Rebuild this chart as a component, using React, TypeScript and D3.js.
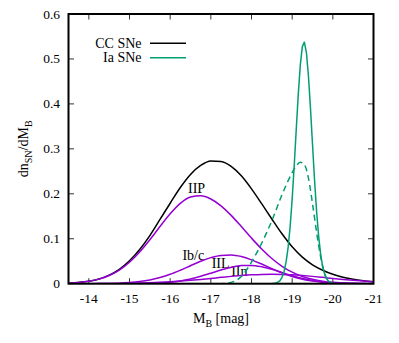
import React from "react";
import * as d3 from "d3";

// ---- data ----
const M_GRID = [-13.5, -13.75, -14, -14.25, -14.5, -14.75, -15, -15.25, -15.5, -15.75, -16, -16.25, -16.5, -16.75, -17, -17.25, -17.5, -17.75, -18, -18.25, -18.5, -18.75, -19, -19.25, -19.5, -19.75, -20, -20.25, -20.5, -20.75, -21];
const CC_TOTAL = [0.0012, 0.0029, 0.0056, 0.0106, 0.0192, 0.032, 0.051, 0.076, 0.107, 0.143, 0.179, 0.214, 0.243, 0.263, 0.273, 0.272, 0.261, 0.240, 0.211, 0.178, 0.144, 0.111, 0.082, 0.059, 0.042, 0.030, 0.021, 0.0145, 0.0098, 0.0065, 0.0042];
const IIP = [0.0012, 0.0027, 0.0054, 0.0102, 0.0182, 0.0304, 0.0478, 0.0705, 0.0977, 0.1272, 0.1555, 0.1787, 0.1928, 0.1956, 0.1885, 0.1733, 0.1520, 0.1271, 0.1014, 0.0772, 0.0560, 0.0388, 0.0256, 0.0161, 0.0097, 0.0056, 0.0030, 0.0016, 0.0008, 0.0004, 0.0002];
const IBC = [0.0000, 0.0000, 0.0001, 0.0002, 0.0006, 0.0012, 0.0025, 0.0047, 0.0083, 0.0137, 0.0209, 0.0300, 0.0400, 0.0499, 0.0580, 0.0630, 0.0638, 0.0603, 0.0531, 0.0437, 0.0335, 0.0240, 0.0161, 0.0100, 0.0058, 0.0032, 0.0016, 0.0008, 0.0003, 0.0001, 0.0000];
const IIL = [0, 0, 0, 0, 0, 0.0000, 0.0001, 0.0003, 0.0008, 0.0017, 0.0034, 0.0062, 0.0106, 0.0164, 0.0234, 0.0306, 0.0367, 0.0404, 0.0407, 0.0377, 0.0320, 0.0249, 0.0177, 0.0116, 0.0070, 0.0038, 0.0019, 0.0009, 0.0004, 0.0002, 0.0001];
const IIN = [0.0000, 0.0001, 0.0001, 0.0002, 0.0004, 0.0006, 0.0009, 0.0014, 0.0021, 0.0031, 0.0043, 0.0058, 0.0076, 0.0096, 0.0118, 0.0141, 0.0163, 0.0182, 0.0197, 0.0207, 0.0210, 0.0207, 0.0197, 0.0182, 0.0163, 0.0141, 0.0118, 0.0096, 0.0076, 0.0058, 0.0043];

const IA_M = [-13.5, -18.5, -18.55, -18.6, -18.65, -18.7, -18.75, -18.8, -18.85, -18.9, -18.95, -19.0, -19.05, -19.1, -19.15, -19.2, -19.25, -19.3, -19.35, -19.4, -19.45, -19.5, -19.55, -19.6, -19.65, -19.7, -19.75, -19.8, -19.85, -19.9, -19.95, -20.0, -20.05, -20.1, -21];
const IA = [0, 0.0002, 0.0006, 0.0014, 0.0032, 0.0069, 0.0141, 0.0268, 0.0478, 0.0804, 0.1268, 0.1881, 0.2619, 0.3426, 0.4211, 0.4863, 0.5273, 0.5373, 0.5143, 0.4626, 0.3906, 0.3101, 0.2311, 0.1619, 0.1065, 0.0658, 0.0382, 0.0208, 0.0107, 0.0051, 0.0023, 0.0010, 0.0004, 0.0001, 0];

const IA_LOW_M = [-13.5, -17.25, -17.5, -17.75, -18, -18.25, -18.5, -18.75, -19, -19.1, -19.2, -19.3, -19.4, -19.5, -19.6, -19.7, -19.8, -19.9, -20, -21];
const IA_LOW = [0, 0, 0.003, 0.016, 0.048, 0.090, 0.140, 0.198, 0.247, 0.262, 0.270, 0.265, 0.235, 0.178, 0.115, 0.060, 0.022, 0.005, 0, 0];

const X_TICKS = [-14, -15, -16, -17, -18, -19, -20, -21];
const Y_TICKS = [0, 0.1, 0.2, 0.3, 0.4, 0.5, 0.6];
const TYPE_LABELS = ["IIP", "Ib/c", "IIL", "IIn"];
const TYPE_LABEL_M = [-16.65, -16.57, -17.24, -17.70];
const TYPE_LABEL_V = [0.202, 0.053, 0.036, 0.018];
const LEGEND = ["CC SNe", "Ia SNe"];

// ---- layout ----
const W = 399, H = 343;
const L = 68.5, R = 373.5, T = 14, B = 283.7;
const PURPLE = "#9400d3";
const GREEN = "#009e73";
const FONT = "'Liberation Serif', 'DejaVu Serif', serif";

export default function App() {
  const x = d3.scaleLinear().domain([-13.5, -21]).range([L, R]);
  const y = d3.scaleLinear().domain([0, 0.6]).range([B, T]);

  const smooth = d3.line<number>()
    .x((_, i) => x(M_GRID[i]))
    .y((d) => y(d))
    .curve(d3.curveMonotoneX);

  const iaLine = d3.line<number>()
    .x((_, i) => x(IA_M[i]))
    .y((d) => y(d));

  const iaLowLine = d3.line<number>()
    .x((_, i) => x(IA_LOW_M[i]))
    .y((d) => y(d))
    .curve(d3.curveMonotoneX);

  return (
    <svg width={W} height={H} style={{ position: "absolute", left: 0, top: 0, background: "#fff" }} fontFamily={FONT}>
      <defs>
        <clipPath id="plotclip">
          <rect x={L} y={T} width={R - L} height={B - T} />
        </clipPath>
      </defs>
      <rect x={0} y={0} width={W} height={H} fill="#fff" />

      {/* ticks */}
      {X_TICKS.map((t) => (
        <g key={"xt" + t}>
          <line x1={x(t)} x2={x(t)} y1={B} y2={B - 5.5} stroke="#333" strokeWidth={1} />
          <line x1={x(t)} x2={x(t)} y1={T} y2={T + 5.5} stroke="#333" strokeWidth={1} />
          <text x={x(t)} y={303} fontSize={13.5} textAnchor="middle" fill="#000">{String(t)}</text>
        </g>
      ))}
      {Y_TICKS.map((t) => (
        <g key={"yt" + t}>
          <line x1={L} x2={L + 5.5} y1={y(t)} y2={y(t)} stroke="#333" strokeWidth={1} />
          <line x1={R} x2={R - 5.5} y1={y(t)} y2={y(t)} stroke="#333" strokeWidth={1} />
          <text x={60} y={y(t) + 4.5} fontSize={13.5} textAnchor="end" fill="#000">{String(t)}</text>
        </g>
      ))}

      {/* type labels */}
      {TYPE_LABELS.map((s, i) => (
        <text key={s} x={x(TYPE_LABEL_M[i])} y={y(TYPE_LABEL_V[i])} fontSize={14} textAnchor="middle" fill="#000">{s}</text>
      ))}

      {/* curves */}
      <g clipPath="url(#plotclip)" fill="none" strokeWidth={1.5} strokeLinejoin="round">
        <path d={smooth(CC_TOTAL) || ""} stroke="#000" />
        <path d={smooth(IIP) || ""} stroke={PURPLE} />
        <path d={smooth(IBC) || ""} stroke={PURPLE} />
        <path d={smooth(IIL) || ""} stroke={PURPLE} />
        <path d={smooth(IIN) || ""} stroke={PURPLE} />
        <path d={iaLowLine(IA_LOW) || ""} stroke={GREEN} strokeDasharray="6,4" />
        <path d={iaLine(IA) || ""} stroke={GREEN} />
      </g>

      {/* frame */}
      <rect x={L} y={T} width={R - L} height={B - T} fill="none" stroke="#000" strokeWidth={2} />

      {/* legend */}
      {LEGEND.map((s, i) => (
        <g key={s}>
          <text x={141.5} y={48 + i * 14.4} fontSize={14} textAnchor="end" fill="#000">{s}</text>
          <line x1={150} x2={186} y1={43.3 + i * 14.4} y2={43.3 + i * 14.4} stroke={i === 0 ? "#000" : GREEN} strokeWidth={1.5} />
        </g>
      ))}

      {/* axis titles */}
      <text x={221} y={323} fontSize={14} textAnchor="middle" fill="#000">
        M<tspan fontSize={10} dy={4}>B</tspan><tspan dy={-4}> [mag]</tspan>
      </text>
      <text transform={`translate(28,${(T + B) / 2}) rotate(-90)`} fontSize={14} textAnchor="middle" fill="#000">
        dn<tspan fontSize={10} dy={4}>SN</tspan><tspan dy={-4}>/dM</tspan><tspan fontSize={10} dy={4}>B</tspan>
      </text>
    </svg>
  );
}
